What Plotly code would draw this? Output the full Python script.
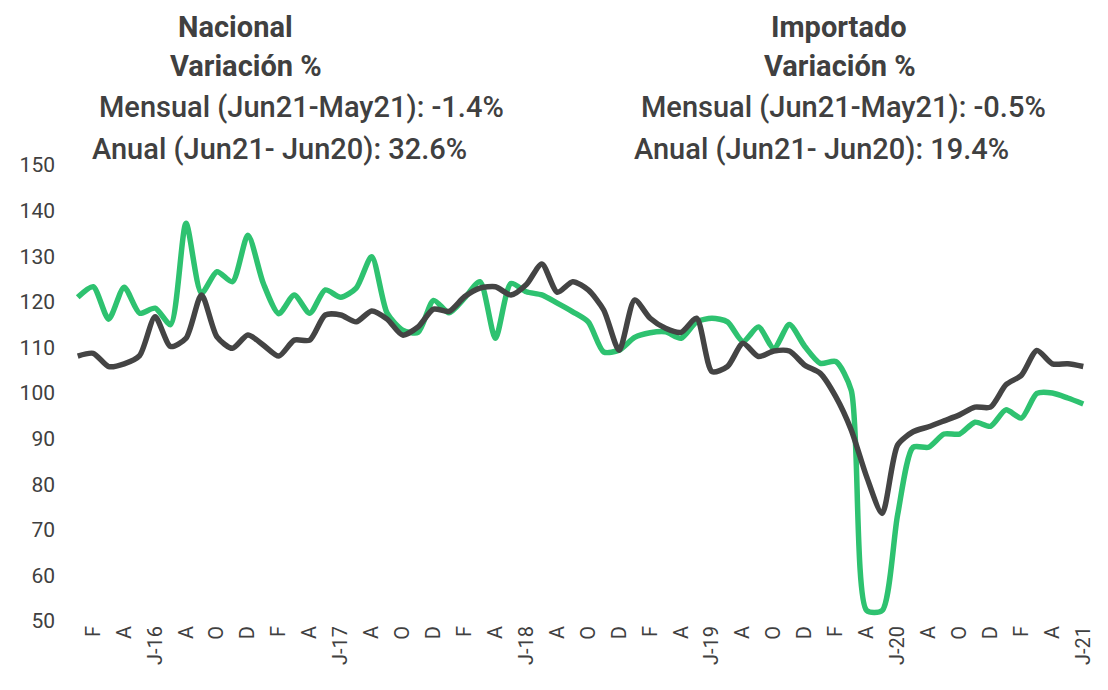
import plotly.graph_objects as go

# monthly index, Jan 2016 - Jun 2021
months = [f"{y}-{m:02d}" for y in range(2016, 2022) for m in range(1, 13)][:66]

nacional = [
    121.0, 123.3, 116.2, 123.2, 117.5, 118.6, 115.0, 137.2, 121.9, 126.6, 124.4, 134.6,
    124.0, 117.4, 121.5, 117.5, 122.6, 121.0, 123.0, 129.9, 117.5, 113.8, 113.3, 120.3,
    117.6, 120.8, 124.4, 112.0, 124.0, 122.2, 121.5, 119.7, 117.8, 115.6, 109.0, 109.4,
    112.2, 113.2, 113.4, 112.0, 115.6, 116.4, 115.6, 111.3, 114.5, 109.8, 115.0, 110.2,
    106.5, 106.9, 100.6, 52.3, 52.3, 73.3, 88.1, 88.1, 91.0, 91.0, 93.6, 92.7,
    96.3, 94.5, 99.9, 100.0, 98.9, 97.6,
]

importado = [
    108.1, 108.7, 105.8, 106.4, 108.2, 116.7, 110.2, 112.0, 121.5, 112.3, 109.8, 112.7,
    110.5, 108.1, 111.6, 111.6, 117.1, 117.1, 115.6, 118.0, 116.2, 112.7, 114.5, 118.4,
    117.9, 121.1, 123.0, 123.3, 121.5, 123.8, 128.3, 122.1, 124.4, 122.6, 118.2, 109.4,
    120.4, 116.4, 114.2, 113.3, 116.4, 104.7, 105.8, 110.9, 108.0, 109.2, 109.2, 106.1,
    104.3, 99.2, 91.9, 81.6, 73.6, 88.6, 91.5, 92.6, 93.9, 95.2, 96.9, 96.9,
    101.8, 103.9, 109.3, 106.4, 106.4, 105.8,
]

tick_labels = [
    "F", "A", "J-16", "A", "O", "D",
    "F", "A", "J-17", "A", "O", "D",
    "F", "A", "J-18", "A", "O", "D",
    "F", "A", "J-19", "A", "O", "D",
    "F", "A", "J-20", "A", "O", "D",
    "F", "A", "J-21",
]

left_text = ["<b>Nacional</b>", "<b>Variación %</b>",
             "Mensual (Jun21-May21): -1.4%", "Anual (Jun21- Jun20): 32.6%"]
right_text = ["<b>Importado</b>", "<b>Variación %</b>",
              "Mensual (Jun21-May21): -0.5%", "Anual (Jun21- Jun20): 19.4%"]

GREEN = "#2EC270"
DARK = "#444444"
TXT = "#404040"

fig = go.Figure()
fig.add_trace(go.Scatter(x=months, y=nacional, mode="lines", name="Nacional",
                         line=dict(color=GREEN, width=5.5, shape="spline", smoothing=0.7)))
fig.add_trace(go.Scatter(x=months, y=importado, mode="lines", name="Importado",
                         line=dict(color=DARK, width=5.5, shape="spline", smoothing=0.7)))

# page offset of the plot div (body margin) is 8px
OFF = 8
PL, PR, PT, PB = 70, 1090.7, 165, 621   # plot box in page pixels
pw, ph = PR - PL, PB - PT
rows_y = [27, 66, 107, 149]
left_x = [235, 246, 301, 279]
right_x = [839, 840, 843, 821]
for i, (txt, px, py) in enumerate(zip(left_text + right_text, left_x + right_x, rows_y + rows_y)):
    bold = (i % 4) < 2
    fig.add_annotation(text=txt, xref="paper", yref="paper",
                       x=(px - PL) / pw, y=(PB - py) / ph,
                       xanchor="center", yanchor="middle", showarrow=False,
                       font=dict(family="Roboto", size=29 if bold else 29,
                                 weight=700 if bold else 500, color=TXT))

fig.update_layout(
    width=1108, height=690,
    margin=dict(l=PL - OFF, r=1108 - (PR - OFF), t=PT - OFF, b=690 - (PB - OFF)),
    plot_bgcolor="white", paper_bgcolor="white",
    showlegend=False,
    font=dict(family="Roboto", color=TXT),
    xaxis=dict(type="category", range=[-0.5, 65.5], showgrid=False, zeroline=False,
               showline=False, ticks="", tickangle=-90,
               tickvals=months[1::2], ticktext=tick_labels,
               tickfont=dict(size=20, color=TXT)),
    yaxis=dict(range=[50, 150], dtick=10, showgrid=False, zeroline=False,
               showline=False, ticks="", ticklabelstandoff=14,
               tickfont=dict(size=21, color=TXT)),
)

fig.write_html("out.html")
